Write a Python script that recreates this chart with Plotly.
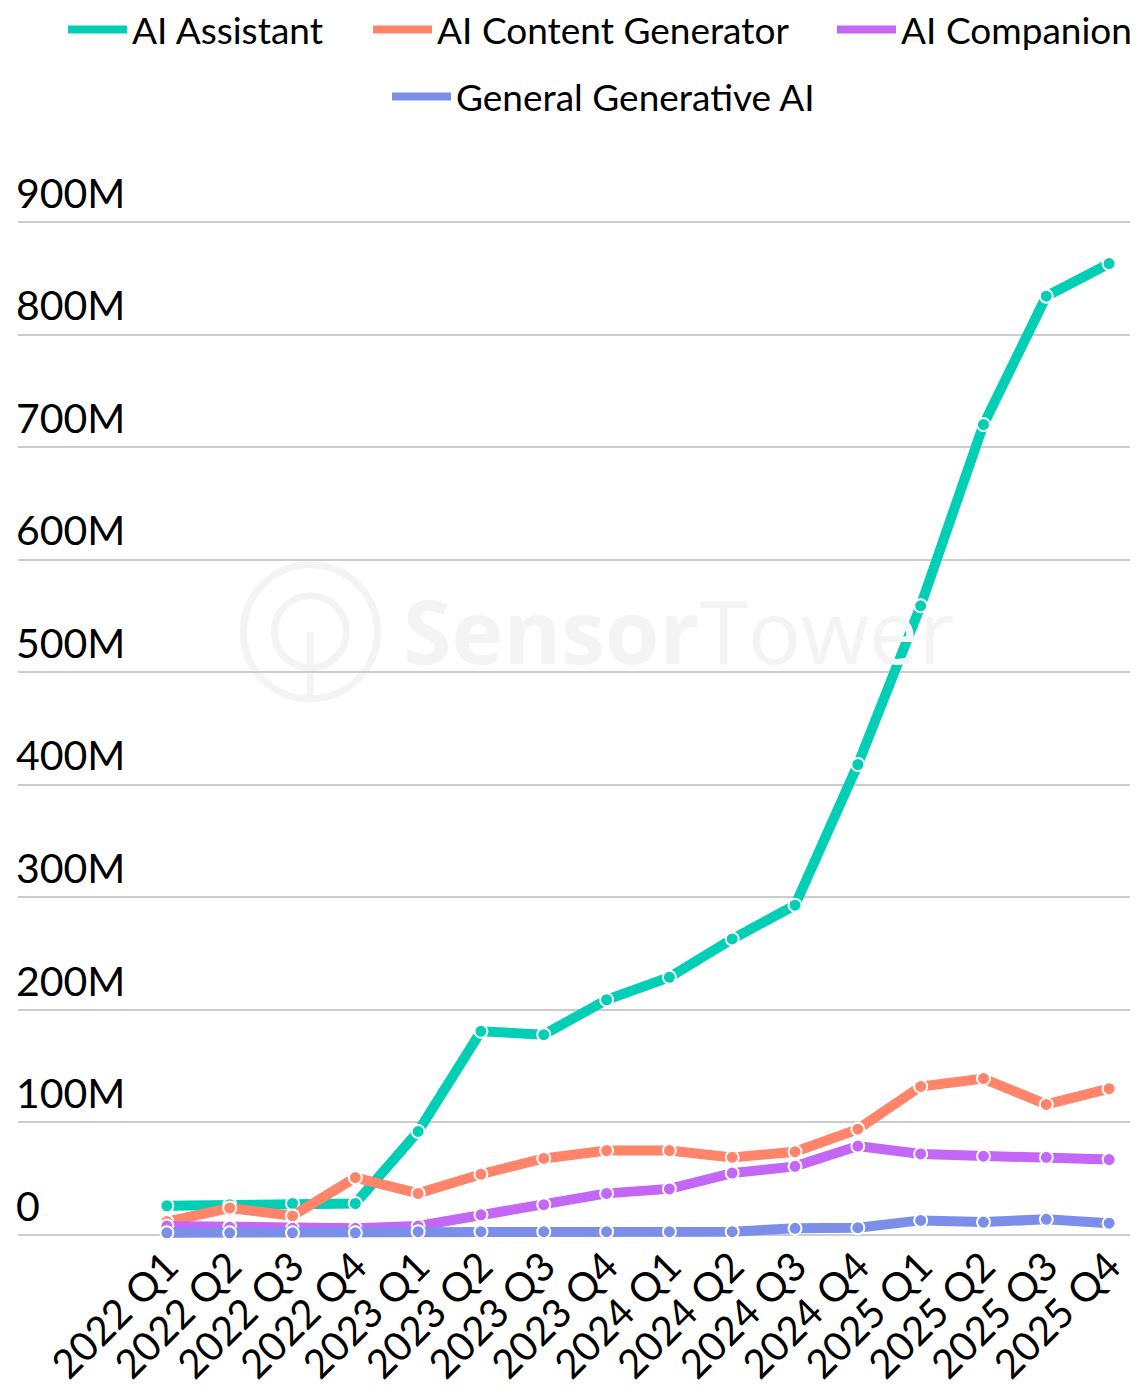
import plotly.graph_objects as go

# quarters on the x axis
quarters = ["2022 Q1", "2022 Q2", "2022 Q3", "2022 Q4",
            "2023 Q1", "2023 Q2", "2023 Q3", "2023 Q4",
            "2024 Q1", "2024 Q2", "2024 Q3", "2024 Q4",
            "2025 Q1", "2025 Q2", "2025 Q3", "2025 Q4"]

# values in millions
ai_assistant = [26, 27, 28, 28, 92, 181, 178, 209, 229, 263, 293, 418, 559, 720, 834, 863]
ai_content_generator = [12, 24, 17, 51, 37, 54, 68, 75, 75, 69, 74, 94, 132, 139, 116, 130]
ai_companion = [8, 7, 6, 6, 8, 18, 27, 37, 41, 55, 61, 79, 72, 70, 69, 67]
general_generative_ai = [2, 2, 2, 2, 3, 3, 3, 3, 3, 3, 6, 6.5, 13, 11.5, 14, 10.5]

series_names = ["AI Assistant", "AI Content Generator", "AI Companion", "General Generative AI"]
series_values = [ai_assistant, ai_content_generator, ai_companion, general_generative_ai]
colors = ["#00CFB6", "#FF846A", "#C466F6", "#7B8FEA"]

y_ticks = [0, 100, 200, 300, 400, 500, 600, 700, 800, 900]
y_ticktext = ["0", "100M", "200M", "300M", "400M", "500M", "600M", "700M", "800M", "900M"]

# the page puts the figure 8px in from the top-left corner
W, H = 1130, 1383

fig = go.Figure()
for name, vals, col in zip(series_names, series_values, colors):
    fig.add_trace(go.Scatter(
        x=quarters, y=vals, name=name, mode="lines+markers", showlegend=False,
        line=dict(color=col, width=10),
        marker=dict(color=col, size=13, line=dict(color="white", width=2)),
    ))

# legend entries: one small legend per series so each can sit where the original has it
legend_ids = ["legend", "legend2", "legend3", "legend4"]
# (page x of the legend box, paper y of its top)
legend_pos = [(63, 1.1373), (368, 1.1373), (832, 1.1373), (387, 1.0764)]
for name, col, lg in zip(series_names, colors, legend_ids):
    fig.add_trace(go.Scatter(x=[None], y=[None], name=name, mode="lines",
                             line=dict(color=col, width=8), legend=lg))

legends = {}
for lg, (px, py) in zip(legend_ids, legend_pos):
    legends[lg] = dict(orientation="h", x=(px - 8) / W, xanchor="left", xref="container",
                       y=py, yref="paper", yanchor="top", font=dict(size=37, color="#000"),
                       itemwidth=59, bgcolor="rgba(0,0,0,0)")

# faint watermark
wm = "#f4f4f4"
fig.add_annotation(text="<b>Sensor</b>Tower", x=0.59, y=0.564, xref="paper", yref="paper",
                   showarrow=False, font=dict(size=88, color=wm, family="Open Sans"))
fig.add_shape(type="circle", xref="paper", yref="paper", xsizemode="pixel", ysizemode="pixel",
              xanchor=0.261, yanchor=0.562, x0=-67, x1=67, y0=-67, y1=67,
              line=dict(color=wm, width=7), layer="below")
fig.add_shape(type="circle", xref="paper", yref="paper", xsizemode="pixel", ysizemode="pixel",
              xanchor=0.261, yanchor=0.562, x0=-36, x1=36, y0=-36, y1=36,
              line=dict(color=wm, width=7), layer="below")
fig.add_shape(type="line", xref="paper", yref="paper", xsizemode="pixel", ysizemode="pixel",
              xanchor=0.261, yanchor=0.562, x0=0, x1=0, y0=0, y1=-66,
              line=dict(color=wm, width=7), layer="below")

fig.update_layout(
    width=W, height=H,
    margin=dict(l=10, r=0, t=142, b=141, autoexpand=False),
    paper_bgcolor="white", plot_bgcolor="white",
    font=dict(family="Lato", color="#000", size=36),
    xaxis=dict(type="category", range=[-2.37, 15.46], showgrid=False, zeroline=False,
               showline=False, tickangle=-45, tickfont=dict(size=40, color="#000"), ticks="",
               ticklabelstandoff=-16, automargin=False),
    yaxis=dict(range=[-13.3, 963.9], tickvals=y_ticks, ticktext=y_ticktext,
               ticklabelposition="inside top", ticklabelstandoff=-5, showgrid=True,
               gridcolor="#cccccc", gridwidth=2, zeroline=False,
               tickfont=dict(size=41, color="#000"), ticks="", automargin=False),
    **legends,
)

fig.write_html("out.html")
